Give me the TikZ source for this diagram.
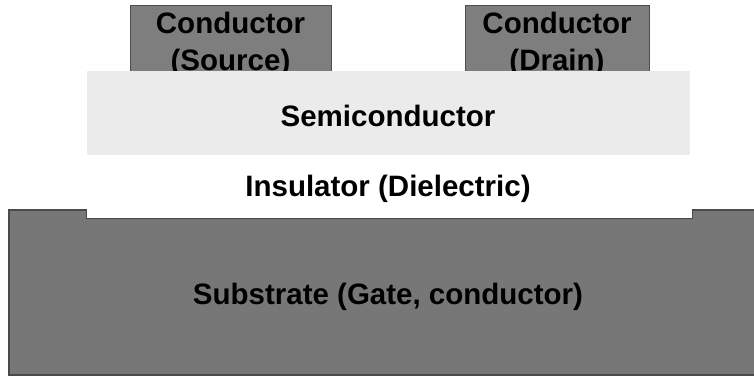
\documentclass[tikz,border=0pt]{standalone}
\usepackage{fontspec}
\setmainfont{Liberation Sans}
\begin{document}
\begin{tikzpicture}[x=1pt,y=-1pt,
  lbl/.style={font=\fontsize{29.5}{36}\selectfont\bfseries, text=black, inner sep=0pt, anchor=base},
  condbox/.style={draw=condedge, fill=condfill, line width=1.4pt, inner sep=0pt, anchor=north west},
  layerbox/.style={draw=none, inner sep=0pt, anchor=north west}]
\definecolor{condfill}{HTML}{7E7E7E}
\definecolor{condedge}{HTML}{4E4E4E}
\definecolor{subfill}{HTML}{777777}
\definecolor{subedge}{HTML}{4A4A4A}
\definecolor{semifill}{HTML}{EBEBEB}
\useasboundingbox (0,0) rectangle (754,377);
\fill[white] (0,0) rectangle (754,377);
% substrate
\filldraw[fill=subfill, draw=subedge, line width=1.4pt]
  (9,375) -- (9,210) -- (87,210) -- (87,218) -- (692,218) -- (692,210) -- (755,210) -- (755,375) -- cycle;
% insulator
\node[layerbox, fill=white, minimum width=605pt, minimum height=63pt] (ins) at (87,155) {};
% source and drain
\node[condbox, minimum width=201pt, minimum height=66pt] (src) at (130,5) {};
\node[condbox, minimum width=184pt, minimum height=66pt] (drn) at (465,5) {};
\node[lbl] (srcA) at (230.5,34) {Conductor};
\node[lbl] (srcB) at (230.5,71) {(Source)};
\node[lbl] (drnA) at (557,34) {Conductor};
\node[lbl] (drnB) at (557,71) {(Drain)};
% semiconductor
\node[layerbox, fill=semifill, minimum width=603pt, minimum height=84pt] (semi) at (87,71) {};
\node[lbl] (semit) at (388,126) {Semiconductor};
\node[lbl] (inst) at (388,196) {Insulator (Dielectric)};
\node[lbl] (subt) at (388,304) {Substrate (Gate, conductor)};
\end{tikzpicture}
\end{document}
